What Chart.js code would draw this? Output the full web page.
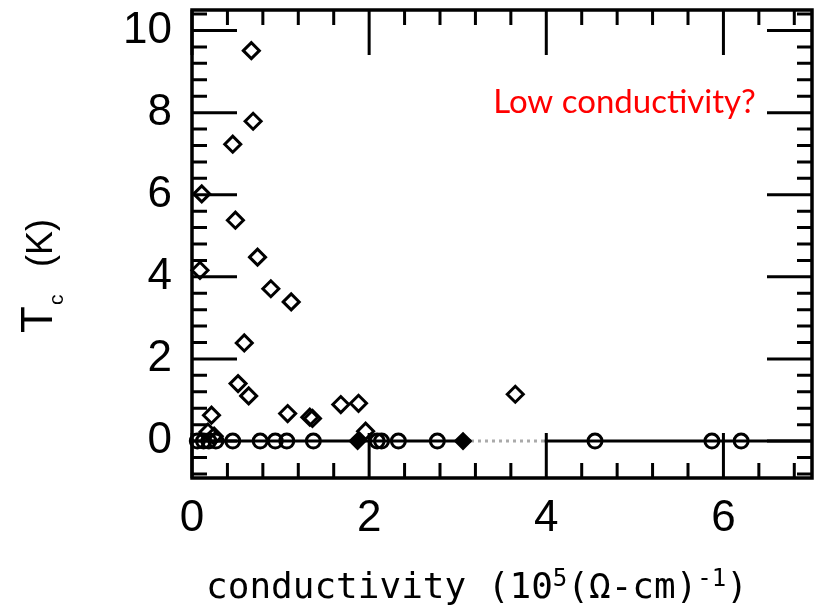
<!DOCTYPE html>
<html>
<head>
<meta charset="utf-8">
<script src="https://cdn.jsdelivr.net/npm/chart.js@4.4.1/dist/chart.umd.min.js"></script>
<style>
  html, body { margin: 0; padding: 0; background: #fff; }
  canvas { display: block; }
</style>
</head>
<body>
<canvas id="tcChart" width="821" height="611"></canvas>
<script>
// ── Axis ticks ──────────────────────────────
const xTicks = [0, 2, 4, 6];
const yTicks = [0, 2, 4, 6, 8, 10];
const minorStep = 0.4;

// ── Samples with a measured Tc (open diamonds) ──
const diamondX = [0.67, 0.69, 0.46, 0.11, 0.49, 0.74, 0.09, 0.89, 1.12, 0.59,
                  0.52, 0.64, 1.08, 1.33, 1.36, 1.68, 1.88, 3.65, 0.22, 1.96,
                  0.18, 0.25];
const diamondY = [9.51, 7.79, 7.23, 6.02, 5.38, 4.48, 4.16, 3.71, 3.39, 2.39,
                  1.40, 1.10, 0.67, 0.58, 0.55, 0.89, 0.92, 1.14, 0.63, 0.24,
                  0.22, 0.12];

// ── No transition seen (open circles) ─────────
const circleX = [0.06, 0.13, 0.19, 0.27, 0.46, 0.77, 0.94, 1.07, 1.37, 2.09,
                 2.14, 2.33, 2.77, 4.55, 5.87, 6.20];
const circleY = [0, 0, 0, 0, 0, 0, 0, 0, 0, 0,
                 0, 0, 0, 0, 0, 0];

// ── Filled diamonds sitting on the baseline ───
const filledX = [1.87, 3.06];
const filledY = [0, 0];

// ── Tc = 0 baseline (gap drawn faint) ─────────
const baseX = [0, 3.15, 3.98, 7];
const baseY = [0, 0, 0, 0];

const pts = (xs, ys) => xs.map((v, i) => ({ x: v, y: ys[i] }));

// frame + inward ticks on all four sides
const framePlugin = {
  id: 'frame',
  beforeDatasetsDraw(chart) {
    const { ctx, chartArea: a, scales: { x, y } } = chart;
    ctx.save();
    ctx.strokeStyle = '#000';
    ctx.lineWidth = 3;
    ctx.lineCap = 'butt';

    const vTick = (v, len) => {
      const px = x.getPixelForValue(v);
      ctx.beginPath();
      ctx.moveTo(px, a.top); ctx.lineTo(px, a.top + len);
      ctx.moveTo(px, a.bottom); ctx.lineTo(px, a.bottom - len);
      ctx.stroke();
    };
    const hTick = (v, len) => {
      const py = y.getPixelForValue(v);
      ctx.beginPath();
      ctx.moveTo(a.left, py); ctx.lineTo(a.left + len, py);
      ctx.moveTo(a.right, py); ctx.lineTo(a.right - len, py);
      ctx.stroke();
    };

    for (let k = 1; k * minorStep < x.max; k++) {
      const v = Math.round(k * minorStep * 10) / 10;
      if (!xTicks.includes(v)) vTick(v, 15);
    }
    for (let k = Math.ceil(y.min / minorStep); k * minorStep < y.max; k++) {
      const v = Math.round(k * minorStep * 10) / 10;
      if (!yTicks.includes(v)) hTick(v, 15);
    }
    xTicks.forEach(v => vTick(v, 45));
    yTicks.forEach(v => hTick(v, 45));

    ctx.lineWidth = 3.5;
    ctx.strokeRect(a.left, a.top, a.right - a.left, a.bottom - a.top);
    ctx.restore();
  }
};

// axis titles and the red note
const textPlugin = {
  id: 'texts',
  afterDraw(chart) {
    const { ctx, scales: { x, y } } = chart;
    ctx.save();
    ctx.fillStyle = '#000';
    ctx.textBaseline = 'alphabetic';
    ctx.textAlign = 'left';

    // x title: conductivity (10^5 (Ω-cm)^-1)
    const big = '36px "DejaVu Sans Mono"';
    const sup = '24px "DejaVu Sans Mono"';
    const parts = [
      { t: 'conductivity (10', f: big, dy: 0 },
      { t: '5', f: sup, dy: -12 },
      { t: '(Ω-cm)', f: big, dy: 0 },
      { t: '-1', f: sup, dy: -12 },
      { t: ')', f: big, dy: 0 }
    ];
    let total = 0;
    parts.forEach(p => { ctx.font = p.f; p.w = ctx.measureText(p.t).width; total += p.w; });
    let cx = 477 - total / 2;
    parts.forEach(p => {
      ctx.font = p.f;
      ctx.fillText(p.t, cx, 598 + p.dy);
      cx += p.w;
    });

    // y title: Tc (K), rotated
    ctx.save();
    ctx.translate(52, 333);
    ctx.rotate(-Math.PI / 2);
    ctx.font = '44px "Liberation Sans"';
    ctx.fillText('T', 0, 0);
    ctx.font = '21px "Liberation Sans"';
    ctx.fillText('c', 28, 11);
    ctx.font = '36px "Liberation Sans"';
    ctx.fillText('(K)', 66, 0);
    ctx.restore();

    // note
    ctx.fillStyle = '#ff0000';
    ctx.font = '33px Lato';
    ctx.fillText('Low conductivity?', x.getPixelForValue(3.4), y.getPixelForValue(8.0));
    ctx.restore();
  }
};

const tickFont = { family: '"Liberation Sans", Arial, sans-serif', size: 44 };

new Chart(document.getElementById('tcChart'), {
  type: 'scatter',
  data: {
    datasets: [
      {
        type: 'line',
        data: pts(baseX, baseY),
        borderColor: '#000',
        borderWidth: 3,
        pointRadius: 0,
        segment: {
          borderColor: c => c.p0DataIndex === 1 ? '#aaa' : '#000',
          borderDash: c => c.p0DataIndex === 1 ? [3, 4] : []
        },
        order: 4
      },
      {
        data: pts(circleX, circleY),
        pointStyle: 'circle',
        pointRadius: 7,
        borderColor: '#000',
        borderWidth: 3,
        backgroundColor: 'transparent',
        clip: false,
        order: 3
      },
      {
        data: pts(diamondX, diamondY),
        pointStyle: 'rectRot',
        pointRadius: 8,
        borderColor: '#000',
        borderWidth: 3,
        backgroundColor: 'transparent',
        clip: false,
        order: 2
      },
      {
        data: pts(filledX, filledY),
        pointStyle: 'rectRot',
        pointRadius: 8,
        borderColor: '#000',
        borderWidth: 2,
        backgroundColor: '#000',
        clip: false,
        order: 1
      }
    ]
  },
  options: {
    responsive: false,
    animation: false,
    layout: { autoPadding: false, padding: { top: 10, right: 9, left: 0, bottom: 0 } },
    plugins: { legend: { display: false }, tooltip: { enabled: false } },
    scales: {
      x: {
        type: 'linear',
        min: 0,
        max: 7,
        afterFit: s => { s.height = 133; s.paddingLeft = 0; s.paddingRight = 0; },
        afterBuildTicks: s => { s.ticks = xTicks.map(v => ({ value: v })); },
        grid: { display: false, drawTicks: false },
        border: { display: false },
        ticks: { font: tickFont, color: '#000', padding: 14, maxRotation: 0, autoSkip: false }
      },
      y: {
        type: 'linear',
        min: -0.9,
        max: 10.5,
        afterFit: s => { s.width = 192; s.paddingTop = 0; s.paddingBottom = 0; },
        afterBuildTicks: s => { s.ticks = yTicks.map(v => ({ value: v })); },
        grid: { display: false, drawTicks: false },
        border: { display: false },
        ticks: { font: tickFont, color: '#000', padding: 20, autoSkip: false }
      }
    }
  },
  plugins: [framePlugin, textPlugin]
});
</script>
</body>
</html>
